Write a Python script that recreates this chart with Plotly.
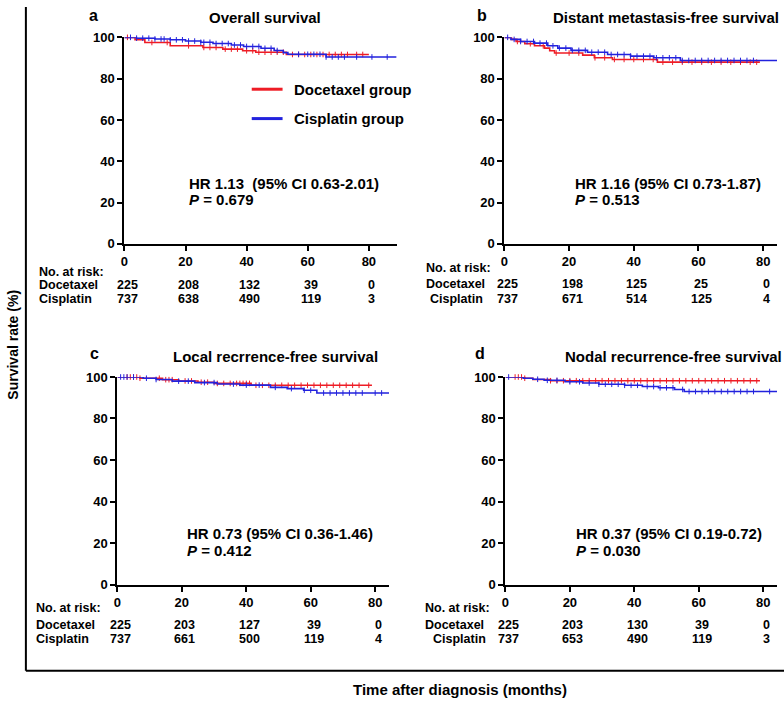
import numpy as np
import plotly.graph_objects as go

# ---------------- data ----------------
risk_times = [0, 20, 40, 60, 80]
y_ticks = [0, 20, 40, 60, 80, 100]

# Panel a: Overall survival
a_doc_t = [0, 3.5, 6.7, 15.0, 25.7, 32.2, 38.7, 43.0, 53.0, 80.0]
a_doc_s = [100, 98.9, 97.5, 95.9, 95.1, 94.3, 93.5, 92.8, 91.7, 91.7]
a_cis_t = [0, 4, 10, 15, 20, 25, 29, 35, 39, 44.7, 49, 52, 53.5, 66, 89]
a_cis_s = [100, 99.6, 99.2, 98.8, 98.2, 97.6, 97.0, 96.3, 95.6, 94.7, 93.6, 92.6, 91.8, 90.5, 90.5]
a_doc_c = [1, 9, 14, 21, 26, 28, 30, 33, 35, 37, 40, 42, 44, 46, 48, 50, 52, 55, 57, 59, 61, 63, 65, 67, 69, 71, 73, 76, 78]
a_cis_c = [2, 4, 6, 8, 10, 12, 13, 15, 17, 19, 21, 23, 25, 26, 28, 30, 32, 34, 36, 38, 40, 42, 44, 46, 48, 50, 57, 60, 62, 64, 66, 68, 70, 72, 76, 81, 86]
a_risk_doc = [225, 208, 132, 39, 0]
a_risk_cis = [737, 638, 490, 119, 3]

# Panel b: Distant metastasis-free survival
b_doc_t = [0, 2.2, 3.6, 6.3, 9.3, 12.4, 14.0, 15.5, 24.2, 27.8, 33.4, 47.3, 79]
b_doc_s = [100, 99.0, 98.0, 96.9, 95.9, 94.8, 93.5, 92.4, 91.4, 90.1, 89.3, 88.0, 88.0]
b_cis_t = [0, 2, 5, 9.3, 13.4, 16.5, 20.6, 25.7, 31.9, 39, 46.2, 54.4, 84.3]
b_cis_s = [100, 99.0, 98.0, 97.2, 95.9, 94.8, 93.7, 92.8, 91.7, 90.9, 90.1, 88.8, 88.8]
b_doc_c = [4, 8, 12, 16, 20, 23, 28, 31, 34, 37, 40, 43, 46, 49, 52, 55, 58, 61, 64, 67, 70, 73, 76, 78]
b_cis_c = [1, 3, 5, 7, 9, 11, 13, 15, 17, 19, 21, 23, 25, 27, 29, 31, 33, 35, 37, 39, 41, 43, 45, 47, 49, 51, 53, 55, 57, 59, 61, 63, 65, 67, 69, 71, 73, 75, 77]
b_risk_doc = [225, 198, 125, 25, 0]
b_risk_cis = [737, 671, 514, 125, 4]

# Panel c: Local recurrence-free survival
c_doc_t = [0, 7, 14, 19, 25, 30, 41.5, 79]
c_doc_s = [100, 99.4, 98.7, 98.1, 97.5, 96.9, 96.0, 96.0]
c_cis_t = [0, 8, 12, 17, 24, 31, 38, 47.5, 52.7, 57.8, 61.9, 84.3]
c_cis_s = [100, 99.4, 98.8, 98.0, 97.3, 96.6, 96.1, 95.0, 94.4, 93.6, 92.3, 92.3]
c_doc_c = [3, 4, 5, 6, 7, 13, 15, 16, 17, 21, 23, 26, 28, 31, 33, 35, 37, 38, 39, 40, 41, 43, 45, 47, 49, 51, 53, 55, 57, 59, 61, 63, 65, 67, 69, 71, 73, 75, 78]
c_cis_c = [1, 2, 3, 5, 9, 12, 19, 22, 27, 30, 36, 40, 44, 49, 54, 58, 60, 64, 66, 68, 70, 72, 74, 76, 80, 82]
c_risk_doc = [225, 203, 127, 39, 0]
c_risk_cis = [737, 661, 500, 119, 4]

# Panel d: Nodal recurrence-free survival
d_doc_t = [0, 6, 8.5, 14, 79]
d_doc_s = [100, 99.4, 98.8, 98.2, 98.2]
d_cis_t = [0, 5.5, 8.5, 12, 18.5, 24, 29, 37, 42.5, 47.5, 52.5, 55.5, 84.3]
d_cis_s = [100, 99.4, 98.9, 98.4, 97.7, 97.1, 96.5, 96.0, 95.4, 94.8, 94.0, 93.0, 93.0]
d_doc_c = [3, 4, 5, 6, 14, 16, 18, 20, 22, 24, 26, 28, 30, 32, 34, 36, 38, 40, 42, 44, 46, 48, 50, 52, 54, 56, 58, 60, 62, 64, 66, 68, 70, 72, 74, 76, 78]
d_cis_c = [1, 10, 13, 16, 20, 23, 26, 29, 31, 33, 35, 37, 39, 41, 44, 46, 48, 50, 52, 55, 57, 59, 61, 63, 65, 67, 69, 71, 73, 75, 77, 82]
d_risk_doc = [225, 203, 130, 39, 0]
d_risk_cis = [737, 653, 490, 119, 3]

titles = ["Overall survival", "Distant metastasis-free survival",
          "Local recrrence-free survival", "Nodal recurrence-free survival"]
letters = ["a", "b", "c", "d"]
hr_texts = ["HR 1.13\u00a0\u00a0(95% CI 0.63-2.01)", "HR 1.16 (95% CI 0.73-1.87)",
            "HR 0.73 (95% CI 0.36-1.46)", "HR 0.37 (95% CI 0.19-0.72)"]
p_texts = ["0.679", "0.513", "0.412", "0.030"]
series_names = ["Docetaxel group", "Cisplatin group"]
row_names = ["Docetaxel", "Cisplatin"]

# ---------------- layout geometry (pixels) ----------------
W, H = 784, 708
RED = "#ee1c25"
BLUE = "#2222dd"
FONT = "Liberation Sans, Arial, Helvetica, sans-serif"


def fx(px):
    return px / W


def fy(py):
    return 1 - py / H


panels = [
    dict(x0=121, x1=395, y0=31, y1=242, xmax=89.2,
         doc=(a_doc_t, a_doc_s, a_doc_c), cis=(a_cis_t, a_cis_s, a_cis_c),
         risk=(a_risk_doc, a_risk_cis),
         letter=(84, 9), title=(262, 11), hr=(185, 180), p=(185, 197),
         nar=(34, 270.5), rows=((34, 284.5), (34, 298.5))),
    dict(x0=503, x1=777, y0=31, y1=242, xmax=84.3,
         doc=(b_doc_t, b_doc_s, b_doc_c), cis=(b_cis_t, b_cis_s, b_cis_c),
         risk=(b_risk_doc, b_risk_cis),
         letter=(474, 9), title=(665, 11), hr=(573, 180), p=(573, 197),
         nar=(423, 266.5), rows=((423, 283), (427, 298))),
    dict(x0=114, x1=387, y0=378, y1=590, xmax=84.3,
         doc=(c_doc_t, c_doc_s, c_doc_c), cis=(c_cis_t, c_cis_s, c_cis_c),
         risk=(c_risk_doc, c_risk_cis),
         letter=(85, 354), title=(273, 357), hr=(183, 538), p=(183, 555),
         nar=(31, 614), rows=((31, 631.5), (31, 645.5))),
    dict(x0=504, x1=777, y0=378, y1=590, xmax=84.3,
         doc=(d_doc_t, d_doc_s, d_doc_c), cis=(d_cis_t, d_cis_s, d_cis_c),
         risk=(d_risk_doc, d_risk_cis),
         letter=(472, 354), title=(673, 357), hr=(574, 538), p=(574, 555),
         nar=(422, 614), rows=((422, 631.5), (430, 645.5))),
]


def step_value(times, surv, at):
    times = np.asarray(times, float)
    surv = np.asarray(surv, float)
    idx = np.searchsorted(times, np.asarray(at, float), side="right") - 1
    idx = np.clip(idx, 0, len(surv) - 1)
    return surv[idx]


fig = go.Figure()
annotations = []
shapes = []


def ann(text, x, y, size=13, xanchor="left", xref="paper", xshift=0):
    annotations.append(dict(text=text, x=x, y=fy(y), xref=xref, yref="paper",
                            xanchor=xanchor, yanchor="middle", showarrow=False,
                            borderpad=0, xshift=xshift,
                            font=dict(family=FONT, size=size, color="black")))


for i, p in enumerate(panels):
    n = "" if i == 0 else str(i + 1)
    xa, ya = "x" + n, "y" + n
    for (t, s, c), col in ((p["doc"], RED), (p["cis"], BLUE)):
        fig.add_trace(go.Scatter(x=t, y=s, mode="lines", line=dict(color=col, width=1.6, shape="hv"),
                                 xaxis=xa, yaxis=ya, showlegend=False, cliponaxis=False,
                                 hoverinfo="skip"))
        fig.add_trace(go.Scatter(x=c, y=step_value(t, s, c), mode="markers",
                                 marker=dict(symbol="line-ns", size=4, line=dict(color=col, width=1)),
                                 xaxis=xa, yaxis=ya, showlegend=False, cliponaxis=False,
                                 hoverinfo="skip"))
    axis_common = dict(showline=True, linewidth=2, linecolor="black", ticks="outside",
                       ticklen=5, tickwidth=2, tickcolor="black", showgrid=False, zeroline=False,
                       tickfont=dict(family=FONT, size=13, color="black", weight="bold"))
    fig.layout["xaxis" + n] = dict(domain=[fx(p["x0"]), fx(p["x1"])], range=[0, p["xmax"]],
                                   tickvals=risk_times, anchor=ya, **axis_common)
    fig.layout["yaxis" + n] = dict(domain=[fy(p["y1"]), fy(p["y0"])], range=[0, 100],
                                   tickvals=y_ticks, anchor=xa, **axis_common)

    ann("<b>%s</b>" % letters[i], fx(p["letter"][0]), p["letter"][1], size=16)
    ann("<b>%s</b>" % titles[i], fx(p["title"][0]), p["title"][1], size=15, xanchor="center")
    ann("<b>%s</b>" % hr_texts[i], fx(p["hr"][0]), p["hr"][1], size=15)
    ann("<b><i>P</i> = %s</b>" % p_texts[i], fx(p["p"][0]), p["p"][1], size=15)
    ann("<b>No. at risk:</b>", fx(p["nar"][0]), p["nar"][1], size=12.5)
    for r, (rx, ry) in enumerate(p["rows"]):
        ann("<b>%s</b>" % row_names[r], fx(rx), ry, size=12.5)
        for tt, v in zip(risk_times, p["risk"][r]):
            ann("<b>%d</b>" % v, tt, ry, size=12.5, xanchor="center", xref=xa, xshift=3)

# legend (drawn in panel a)
for k, (col, ly) in enumerate(((RED, 84), (BLUE, 114))):
    shapes.append(dict(type="line", xref="paper", yref="paper", x0=fx(249), x1=fx(280),
                       y0=fy(ly), y1=fy(ly), line=dict(color=col, width=3)))
    ann("<b>%s</b>" % series_names[k], fx(290), ly, size=15)

# outer frame lines
shapes.append(dict(type="line", xref="paper", yref="paper", x0=fx(22), x1=fx(22),
                   y0=fy(0), y1=fy(678), line=dict(color="black", width=2)))
shapes.append(dict(type="line", xref="paper", yref="paper", x0=fx(22), x1=fx(784),
                   y0=fy(678), y1=fy(678), line=dict(color="black", width=2)))

annotations.append(dict(text="<b>Survival rate (%)</b>", x=fx(9), y=fy(345), xref="paper",
                        yref="paper", textangle=-90, showarrow=False, xanchor="center",
                        yanchor="middle", font=dict(family=FONT, size=14, color="black")))
ann("<b>Time after diagnosis (months)</b>", fx(458), 697, size=15, xanchor="center")

fig.update_layout(width=W, height=H, margin=dict(l=0, r=0, t=0, b=0),
                  paper_bgcolor="white", plot_bgcolor="white",
                  annotations=annotations, shapes=shapes, showlegend=False)

fig.write_html("out.html", config={"displayModeBar": False},
               post_script="document.body.style.margin='0';document.body.style.overflow='hidden';")
